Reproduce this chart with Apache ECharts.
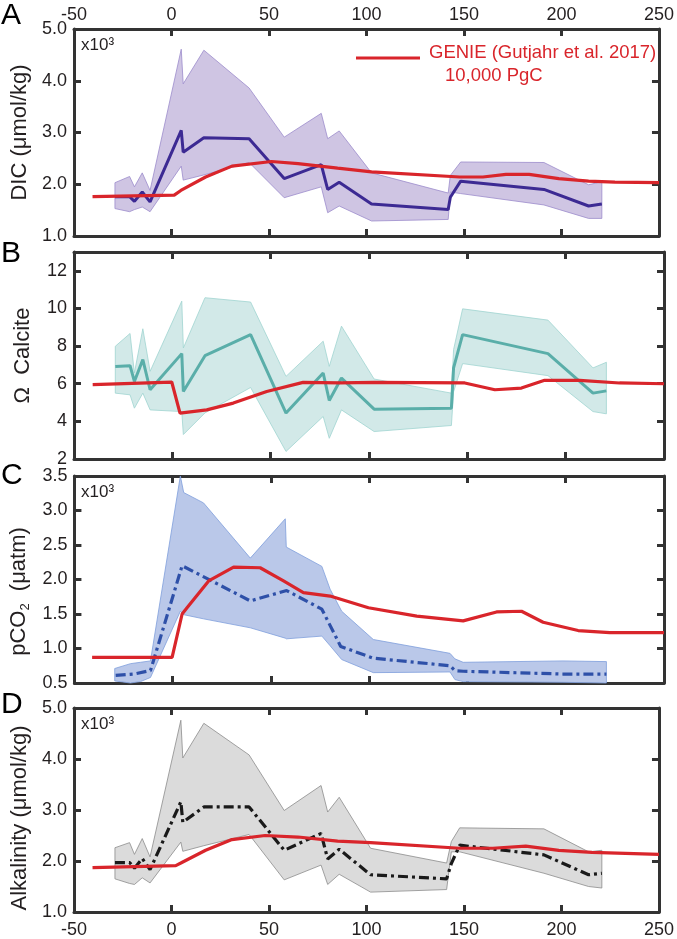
<!DOCTYPE html>
<html>
<head>
<meta charset="utf-8">
<script src="https://cdn.jsdelivr.net/npm/echarts@6/dist/echarts.min.js"></script>
<style>
html,body{margin:0;padding:0;background:#fff;}
#chart{width:677px;height:939px;}
</style>
</head>
<body>
<div id="chart"></div>
<script>
// ---------- X axis ticks ----------
const xTicks = [-50, 0, 50, 100, 150, 200, 250];

// ---------- Panel A: DIC (x10^3 umol/kg) ----------
const dicTicks = [1, 2, 3, 4, 5];
const dicAges = [-29, -21.5, -19, -15, -11, 5, 6, 16.6, 39.8, 57.8, 76.8, 80.1, 86, 102.6, 141.9, 143, 148.3, 191, 213.9, 220.7];
const dicMean = [1.76, 1.76, 1.67, 1.85, 1.66, 3.04, 2.62, 2.90, 2.88, 2.11, 2.38, 1.90, 2.04, 1.62, 1.51, 1.75, 2.06, 1.90, 1.58, 1.62];
const dicHi   = [2.03, 2.15, 1.95, 2.22, 1.88, 4.61, 3.94, 4.59, 3.86, 2.91, 3.37, 2.88, 3.03, 2.22, 1.83, 2.17, 2.43, 2.42, 1.99, 2.05];
const dicLo   = [1.53, 1.47, 1.51, 1.56, 1.47, 2.35, 2.08, 2.18, 2.42, 1.74, 1.95, 1.45, 1.58, 1.29, 1.32, 1.85, 1.82, 1.60, 1.34, 1.34];
const genieDicAges = [-40.5, 1.4, 4.8, 17.5, 31, 51.3, 64.9, 85.2, 102.6, 147.8, 159.7, 171.5, 183.4, 198.6, 213.9, 227.4, 250];
const genieDic     = [1.76, 1.79, 1.88, 2.14, 2.35, 2.44, 2.40, 2.31, 2.24, 2.14, 2.14, 2.19, 2.19, 2.11, 2.06, 2.04, 2.03];

// ---------- Panel B: Omega calcite ----------
const omTicks = [2, 4, 6, 8, 10, 12];
const omAges = [-29, -21.5, -19.3, -15, -11.3, 4.8, 5.6, 16.6, 39.8, 57.8, 76.7, 79.8, 86, 102.6, 141.9, 143, 147.6, 191, 213.9, 220.7];
const omMean = [6.92, 6.96, 6.12, 7.28, 5.68, 7.60, 5.59, 7.49, 8.61, 4.44, 6.57, 5.11, 6.30, 4.65, 4.70, 6.84, 8.61, 7.60, 5.50, 5.62];
const omHi   = [7.99, 8.67, 6.57, 8.92, 6.66, 10.39, 7.90, 10.57, 10.34, 6.39, 8.26, 6.92, 9.06, 6.25, 5.50, 7.81, 9.98, 9.38, 6.84, 7.14];
const omLo   = [5.50, 5.41, 4.70, 5.50, 4.61, 4.52, 3.30, 4.45, 5.80, 2.40, 4.26, 3.10, 4.61, 3.46, 3.78, 5.57, 7.07, 6.43, 4.52, 4.40];
const genieOmAges = [-40.5, -0.3, 3.9, 17.5, 31, 48, 66.5, 85.2, 103, 148.7, 164, 177.5, 189.3, 207.1, 227.4, 250];
const genieOm     = [5.95, 6.09, 4.44, 4.61, 4.97, 5.59, 6.07, 6.04, 6.07, 6.04, 5.68, 5.77, 6.18, 6.18, 6.04, 6.00];

// ---------- Panel C: pCO2 (x10^3 uatm) ----------
const pco2Ticks = [0.5, 1.0, 1.5, 2.0, 2.5, 3.0, 3.5];
const pco2BandAges = [-29.5, -21.5, -16.4, -11.3, 3.9, 5.6, 15.7, 39.5, 57.3, 57.8, 75.9, 80.1, 86, 102.1, 141.1, 143.6, 147.8, 198.6, 220.7];
const pco2Hi       = [0.71, 0.78, 0.80, 0.82, 3.50, 3.26, 3.11, 2.31, 2.88, 2.47, 2.19, 1.86, 1.54, 1.13, 0.93, 0.85, 0.80, 0.82, 0.81];
const pco2Lo       = [0.53, 0.50, 0.52, 0.58, 1.54, 1.49, 1.43, 1.30, 1.15, 1.14, 1.18, 1.04, 0.84, 0.65, 0.66, 0.55, 0.52, 0.51, 0.50];
const pco2MeanAges = [-29, -19.8, -11.3, 4.8, 39.5, 58, 75.9, 85.5, 102.1, 141.1, 143.6, 147.8, 198.6, 220.7];
const pco2Mean     = [0.61, 0.63, 0.68, 2.20, 1.69, 1.84, 1.57, 1.03, 0.86, 0.75, 0.68, 0.67, 0.63, 0.63];
const geniePco2Ages = [-41, -0.3, 4.8, 7.3, 18.3, 31, 44.5, 56.4, 66.5, 80.1, 99.6, 124.2, 147.8, 164.8, 177.5, 188.5, 206.3, 222.4, 250];
const geniePco2     = [0.87, 0.87, 1.50, 1.59, 1.98, 2.18, 2.17, 1.98, 1.81, 1.76, 1.59, 1.47, 1.40, 1.53, 1.54, 1.38, 1.26, 1.23, 1.23];

// ---------- Panel D: Alkalinity (x10^3 umol/kg) ----------
const alkTicks = [1, 2, 3, 4, 5];
const alkAges = [-29, -21.5, -19, -15, -11, 4.8, 5.8, 16.6, 39.8, 57.8, 76.7, 80.1, 86, 102.1, 141.1, 143.5, 147.8, 191, 213.9, 220.7];
const alkMean = [1.97, 1.97, 1.86, 2.05, 1.83, 3.16, 2.76, 3.06, 3.06, 2.21, 2.54, 2.04, 2.23, 1.73, 1.65, 1.95, 2.31, 2.12, 1.73, 1.76];
const alkHi   = [2.26, 2.36, 2.13, 2.44, 2.08, 4.76, 4.02, 4.70, 4.08, 2.99, 3.48, 2.96, 3.25, 2.25, 1.96, 2.38, 2.65, 2.63, 2.18, 2.21];
const alkLo   = [1.65, 1.56, 1.54, 1.67, 1.57, 2.37, 2.19, 2.30, 2.52, 1.63, 1.92, 1.54, 1.74, 1.39, 1.44, 2.18, 2.18, 1.76, 1.50, 1.47];
const genieAlkAges = [-40.5, 2.2, 4.8, 17.5, 31, 48, 64.9, 85.2, 102.1, 147.8, 164.8, 181.7, 198.6, 215.6, 250];
const genieAlk     = [1.87, 1.91, 1.96, 2.21, 2.42, 2.50, 2.47, 2.39, 2.36, 2.25, 2.25, 2.29, 2.21, 2.17, 2.13];

// ---------- Y axis ranges ----------
const yRanges = [
  {min: 1, max: 5, interval: 1, dec: 1, ticks: dicTicks},
  {min: 2, max: 13, interval: 2, dec: 0, ticks: omTicks},
  {min: 0.5, max: 3.5, interval: 0.5, dec: 1, ticks: pco2Ticks},
  {min: 1, max: 5, interval: 1, dec: 1, ticks: alkTicks}
];

const FONT = '"Liberation Sans", Arial, Helvetica, sans-serif';
const INK = '#231f20';
const FRAME = '#333333';
const RED = '#d9252b';

const gridTops = [29, 252, 476, 708];
const gridHeights = [207, 207, 207, 206];
const yNames = [
  'DIC (μmol/kg)',
  'Ω  Calcite',
  '{a|pCO}{s|2}{a|  (μatm)}',
  'Alkalinity (μmol/kg)'
];
const namePads = [[0, 0, 0, 0], [0, 0, 0, 0], [0, 24, 0, 0], [0, 16, 0, 0]];

function mkLine() { return {show: true, onZero: false, lineStyle: {color: FRAME, width: 3}}; }
function mkTick() { return {show: true, inside: true, length: 7, lineStyle: {color: FRAME, width: 3}}; }

const grids = [], xAxes = [], yAxes = [];
for (let i = 0; i < 4; i++) {
  grids.push({left: 74, right: 13, top: gridTops[i], height: gridHeights[i]});
  xAxes.push({type: 'value', gridIndex: i, position: 'bottom', min: -50, max: 250, interval: 50,
    axisLine: mkLine(), splitLine: {show: false}, axisTick: mkTick(),
    axisLabel: {show: i === 3, color: INK, fontSize: 18, fontFamily: FONT, margin: 9}});
  xAxes.push({type: 'value', gridIndex: i, position: 'top', min: -50, max: 250, interval: 50,
    axisLine: mkLine(), splitLine: {show: false}, axisTick: mkTick(),
    axisLabel: {show: i === 0, color: INK, fontSize: 18, fontFamily: FONT, margin: 5}});
  const r = yRanges[i];
  yAxes.push({type: 'value', gridIndex: i, position: 'left', min: r.min, max: r.max, interval: r.interval,
    axisLine: mkLine(), splitLine: {show: false}, axisTick: mkTick(),
    axisLabel: {color: INK, fontSize: 18, fontFamily: FONT, margin: 7, showMaxLabel: i !== 1,
      formatter: v => v.toFixed(r.dec)},
    name: yNames[i], nameLocation: 'middle', nameGap: 40,
    nameTextStyle: {color: INK, fontSize: 22, fontFamily: FONT, padding: namePads[i],
      rich: {a: {fontSize: 22, fontFamily: FONT, color: INK},
             s: {fontSize: 13, fontFamily: FONT, color: INK, verticalAlign: 'bottom', padding: [12, 0, 0, 0]}}}});
  yAxes.push({type: 'value', gridIndex: i, position: 'right', min: r.min, max: r.max, interval: r.interval,
    axisLine: mkLine(), splitLine: {show: false}, axisTick: mkTick(), axisLabel: {show: false}});
}

function band(gi, ages, lo, hi, fill, stroke) {
  return {
    type: 'custom', xAxisIndex: gi * 2, yAxisIndex: gi * 2, silent: true, z: 1,
    data: ages.map((a, k) => [a, lo[k], hi[k]]),
    encode: {x: 0, y: [1, 2]},
    renderItem: (params, api) => {
      if (params.dataIndex !== 0) return {type: 'group', children: []};
      const pts = [];
      for (let k = 0; k < ages.length; k++) pts.push(api.coord([ages[k], hi[k]]));
      for (let k = ages.length - 1; k >= 0; k--) pts.push(api.coord([ages[k], lo[k]]));
      return {type: 'polygon', shape: {points: pts}, style: {fill: fill, stroke: stroke, lineWidth: 0.8}};
    }
  };
}
function line(gi, ages, vals, color, width, dash, z) {
  return {
    type: 'line', xAxisIndex: gi * 2, yAxisIndex: gi * 2, silent: true, z: z,
    showSymbol: false, symbol: 'none', animation: false,
    data: ages.map((a, k) => [a, vals[k]]),
    lineStyle: {color: color, width: width, type: dash || 'solid'}
  };
}
const DASHDOT = [10, 4, 3, 4];

const series = [
  band(0, dicAges, dicLo, dicHi, '#cfc5e3', '#9c8ccb'),
  line(0, dicAges, dicMean, '#3c2a93', 3, null, 3),
  line(0, genieDicAges, genieDic, RED, 3.2, null, 4),

  band(1, omAges, omLo, omHi, '#d2e9e8', '#9fd4d1'),
  line(1, omAges, omMean, '#5aaea9', 3, null, 3),
  line(1, genieOmAges, genieOm, RED, 3.2, null, 4),

  band(2, pco2BandAges, pco2Lo, pco2Hi, '#bac8e9', '#7f9edc'),
  line(2, pco2MeanAges, pco2Mean, '#2e50a8', 3.2, DASHDOT, 3),
  line(2, geniePco2Ages, geniePco2, RED, 3.2, null, 4),

  band(3, alkAges, alkLo, alkHi, '#dbdbdb', '#8c8c8c'),
  line(3, alkAges, alkMean, '#1a1a1a', 3.2, DASHDOT, 3),
  line(3, genieAlkAges, genieAlk, RED, 3.2, null, 4)
];

const panelLetters = ['A', 'B', 'C', 'D'];
const letterY = [16, 254, 476, 705];
const graphic = [];
panelLetters.forEach((L, i) => {
  graphic.push({type: 'text', left: 1, top: letterY[i] - 15,
    style: {text: L, font: '30px ' + FONT, fill: '#000'}});
});
[0, 2, 3].forEach(i => {
  graphic.push({type: 'text', left: 81, top: gridTops[i] + 8,
    style: {text: 'x10³', font: '17px ' + FONT, fill: INK}});
});
graphic.push({type: 'line', shape: {x1: 356, y1: 58, x2: 420, y2: 58},
  style: {stroke: RED, lineWidth: 3.2}});
graphic.push({type: 'text', left: 429, top: 43,
  style: {text: 'GENIE (Gutjahr et al. 2017)', font: '18.5px ' + FONT, fill: RED}});
graphic.push({type: 'text', left: 445, top: 66,
  style: {text: '10,000 PgC', font: '18.5px ' + FONT, fill: RED}});

const chart = echarts.init(document.getElementById('chart'), null, {renderer: 'canvas'});
chart.setOption({
  animation: false,
  grid: grids, xAxis: xAxes, yAxis: yAxes,
  series: series,
  graphic: graphic
});
</script>
</body>
</html>
